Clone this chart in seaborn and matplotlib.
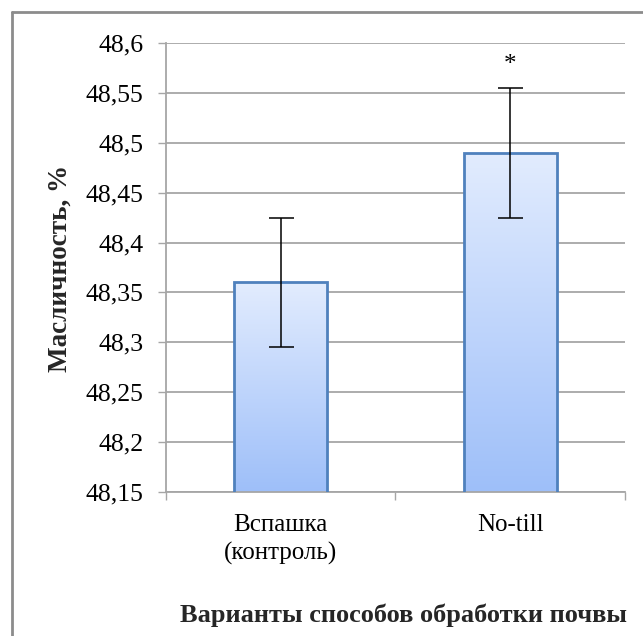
import numpy as np
import pandas as pd
import matplotlib
matplotlib.use("Agg")
import matplotlib.pyplot as plt
from matplotlib.colors import LinearSegmentedColormap
from matplotlib.lines import Line2D
from matplotlib.ticker import FuncFormatter, FixedLocator
import seaborn as sns

# Data
categories = ["Вспашка\n(контроль)", "No-till"]
oil_content = [48.36, 48.49]
errors = [0.065, 0.065]
significance = ["", "*"]

sns.set_theme(style="white")
SERIF = ["Liberation Serif", "DejaVu Serif"]
plt.rcParams["font.family"] = SERIF

df = pd.DataFrame({"variant": categories, "oil": oil_content})

fig = plt.figure(figsize=(6.43, 6.36), dpi=100)
ax = fig.add_axes([0.258, 0.2264, 0.714, 0.706])

sns.barplot(data=df, x="variant", y="oil", order=categories, width=0.405,
            color="#BFD4FB", edgecolor="#4F81BD", linewidth=2.0, ax=ax,
            errorbar=None, zorder=3)

ymin, ymax = 48.15, 48.6

# gradient fill inside each bar
cmap = LinearSegmentedColormap.from_list("barfill", ["#9EBFF9", "#E2ECFE"])
grad = np.linspace(0, 1, 256).reshape(-1, 1)
for patch in ax.patches:
    x0 = patch.get_x()
    w = patch.get_width()
    top = patch.get_y() + patch.get_height()
    im = ax.imshow(grad, extent=[x0, x0 + w, ymin, top], origin="lower",
                   cmap=cmap, aspect="auto", zorder=2.5, interpolation="bicubic")
    im.set_clip_path(patch)
    patch.set_facecolor("none")
ax.set_xlim(-0.5, 1.5)
ax.set_ylim(ymin, ymax)

# error bars
xpos = np.arange(len(categories))
ax.errorbar(xpos, oil_content, yerr=errors, fmt="none", ecolor="black",
            elinewidth=1.1, capsize=9, capthick=1.1, zorder=4)

# significance marks
for xi, val, err, mark in zip(xpos, oil_content, errors, significance):
    if mark:
        ax.text(xi, val + err + 0.012, mark, ha="center", va="bottom",
                fontsize=18, color="black", zorder=5, family=SERIF)

# y axis
yticks = np.round(np.arange(48.15, 48.6001, 0.05), 2)
ax.yaxis.set_major_locator(FixedLocator(yticks))
ax.yaxis.set_major_formatter(FuncFormatter(lambda v, p: f"{v:g}".replace(".", ",")))
ax.yaxis.grid(True, color="#A6A6A6", linewidth=1.3, zorder=0)
ax.set_axisbelow(True)
ax.tick_params(axis="y", which="major", left=True, length=6, width=1.0,
               color="#A6A6A6", labelsize=18.5, pad=10, labelcolor="black")

# x axis: labels at bar centres, ticks at category boundaries
ax.set_xticks(xpos)
ax.set_xticklabels(categories, linespacing=1.3)
ax.set_xticks([-0.5, 0.5, 1.5], minor=True)
ax.tick_params(axis="x", which="major", length=0, labelsize=18, pad=16,
               labelcolor="black")
ax.tick_params(axis="x", which="minor", bottom=True, length=6, width=1.0,
               color="#A6A6A6")

for lbl in ax.get_xticklabels() + ax.get_yticklabels():
    lbl.set_fontfamily(SERIF)

for side in ["top", "right"]:
    ax.spines[side].set_visible(False)
for side in ["left", "bottom"]:
    ax.spines[side].set_color("#A6A6A6")
    ax.spines[side].set_linewidth(1.3)

ax.set_ylabel("Масличность, %", fontsize=19.5, fontweight="bold",
              family=SERIF, va="center")
ax.yaxis.set_label_coords(-0.231, 0.499)
ax.set_xlabel("")
fig.text(0.628, 0.033, "Варианты способов обработки почвы", ha="center",
         va="center", fontsize=19, fontweight="bold", family=SERIF)

# chart area frame
fig.add_artist(Line2D([0.018, 0.018], [0.0, 0.981], transform=fig.transFigure,
                      color="#8C8C8C", linewidth=2.0))
fig.add_artist(Line2D([0.018, 1.0], [0.981, 0.981], transform=fig.transFigure,
                      color="#8C8C8C", linewidth=2.0))

fig.savefig("out.png", dpi=100, facecolor="white")
